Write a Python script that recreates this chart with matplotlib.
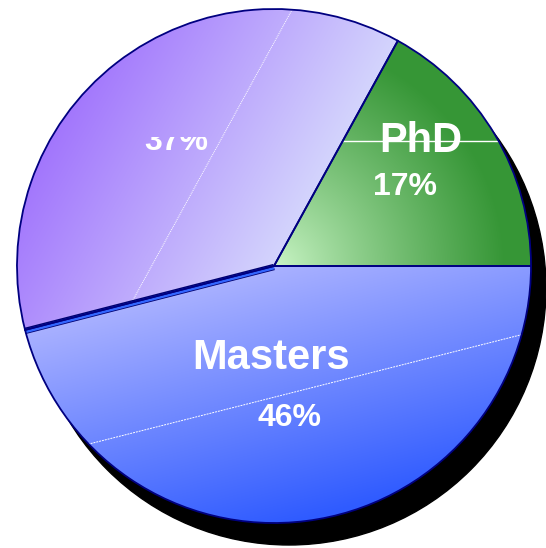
import numpy as np
import matplotlib.pyplot as plt
from matplotlib.patches import Circle, Rectangle
from matplotlib.colors import to_rgb

# Доли степеней
labels = ['PhD', 'Bachelors', 'Masters']
shares = [17, 37, 46]
pct_labels = ['17%', '37%', '46%']

W, H = 546, 548
cx, cy, R = 274, 282, 257

fig = plt.figure(figsize=(W / 100, H / 100), dpi=100)
ax = fig.add_axes([0, 0, 1, 1])

# тень под диаграммой
ax.add_patch(Circle((cx + 15, cy - 22), R, color='black', zorder=0))

wedges, _ = ax.pie(shares, startangle=0, counterclock=True, center=(cx, cy),
                   radius=R, frame=True,
                   wedgeprops=dict(facecolor='none', edgecolor='none'))
ax.set_xlim(0, W)
ax.set_ylim(0, H)
ax.set_aspect('equal')
ax.axis('off')

# сетка пикселей для градиентов (строка 0 = верх)
px, py = np.meshgrid(np.arange(W) + 0.5, np.arange(H) + 0.5)


def blend(c0, c1, t):
    c0 = np.array(to_rgb(c0))
    c1 = np.array(to_rgb(c1))
    t = np.clip(t, 0, 1)[..., None]
    return c0 * (1 - t) + c1 * t


# PhD: радиальный градиент от центра
dist = np.hypot(px - 275, py - 268)
grad_phd = blend('#cdf7c9', '#369636', (dist / 230) ** 0.85)

# Bachelors: линейный градиент слева направо
t_bach = ((px - 20) * 0.877 + (py - 140) * 0.48) / 280
grad_bach = blend('#9d6cfd', '#d3d3fc', t_bach)

# Masters: сверху вниз
t_mast = ((px - 40) * 0.25 + (py - 330) * 0.97) / 250
grad_mast = blend('#a8b0ff', '#2f5bff', t_mast)

for w, g in zip(wedges, [grad_phd, grad_bach, grad_mast]):
    im = ax.imshow(g, extent=(0, W, 0, H), origin='upper', zorder=1,
                   interpolation='bilinear')
    im.set_clip_path(w)

# светлые линии внутри секторов
ln = ax.plot([133, 293], [H - 300, H - 8], color='white', lw=0.7,
             ls=(0, (1, 1)), zorder=2)[0]
ln.set_clip_path(wedges[1])
ln = ax.plot([85, 540], [H - 445, H - 330], color='white', lw=0.7,
             ls=(0, (2, 1)), zorder=2)[0]
ln.set_clip_path(wedges[2])
ln = ax.plot([300, 540], [H - 141, H - 141], color='white', lw=1, zorder=2)[0]
ln.set_clip_path(wedges[0])

# синяя кромка между Bachelors и Masters
ang = np.deg2rad(360 * (17 + 37) / 100)
ex, ey = cx + R * np.cos(ang), cy + R * np.sin(ang)
ax.plot([cx, ex], [cy - 1, ey - 1], color='#000070', lw=4.6, zorder=3,
        solid_capstyle='butt')
ax.plot([cx, ex], [cy - 1.3, ey - 1.3], color='#3366ff', lw=3.0, zorder=3,
        solid_capstyle='butt')

# контуры секторов
for w in wedges:
    w.set_edgecolor('#000080')
    w.set_linewidth(1.3)
    w.set_zorder(4)

# подписи
txt = dict(color='white', fontweight='bold', family='Liberation Sans',
           ha='center', va='center', zorder=5)
ax.text(421, H - 141, 'PhD', fontsize=30, **txt)
ax.text(405, H - 187, pct_labels[0], fontsize=23, **txt)
ax.text(271, H - 358, 'Masters', fontsize=30, **txt)
ax.text(290, H - 418, pct_labels[2], fontsize=23, **txt)
t37 = ax.text(176, H - 142, pct_labels[1], fontsize=23, clip_on=True, **txt)
t37.set_clip_path(Rectangle((0, 0), W, H - 137, transform=ax.transData))

fig.savefig('out.png', dpi=100)
